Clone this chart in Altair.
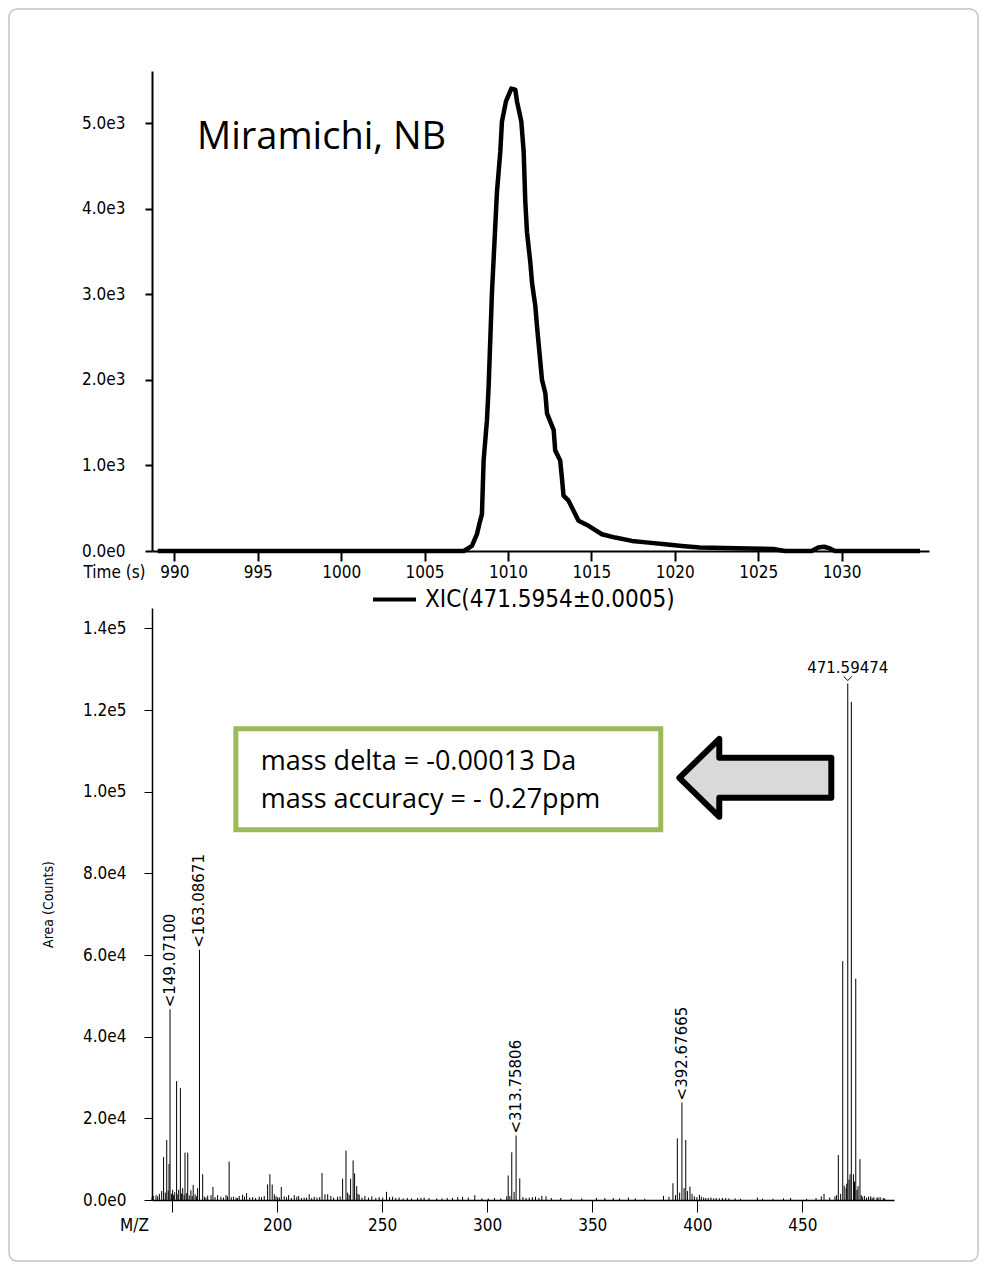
import altair as alt
import pandas as pd

# ---------------- data ----------------
xic_name = "XIC(471.5954±0.0005)"
# (time s, intensity counts)
xic_points = [
    (989.0, 0), (992.0, 0), (995.0, 0), (998.0, 0), (1001.0, 0), (1004.0, 0),
    (1007.35, 0), (1007.84, 59), (1008.14, 196), (1008.28, 314), (1008.44, 431),
    (1008.54, 1059), (1008.74, 1529), (1008.84, 1922), (1009.04, 3020),
    (1009.24, 3804), (1009.34, 4196), (1009.54, 4667), (1009.64, 5020),
    (1009.88, 5255), (1010.20, 5404), (1010.44, 5392), (1010.54, 5255),
    (1010.80, 5020), (1010.94, 4667), (1011.04, 4079), (1011.14, 3726),
    (1011.34, 3373), (1011.44, 3137), (1011.64, 2863), (1011.74, 2627),
    (1012.04, 2000), (1012.24, 1843), (1012.34, 1608), (1012.74, 1412),
    (1012.83, 1176), (1013.13, 1059), (1013.23, 863), (1013.33, 647),
    (1013.63, 588), (1013.93, 471), (1014.23, 353), (1014.83, 294),
    (1015.63, 196), (1016.43, 157), (1017.43, 118), (1018.43, 98),
    (1019.42, 78), (1020.42, 59), (1021.5, 40), (1023.0, 35), (1024.5, 30),
    (1025.9, 24), (1026.6, 0), (1028.2, 0), (1028.6, 40), (1028.95, 50),
    (1029.3, 30), (1029.6, 0), (1034.7, 0),
]

# (m/z, area counts): main peaks
spectrum_peaks = [
    (141.1, 1000), (142.4, 1200), (144.0, 1500), (145.1, 2200), (146.0, 10500),
    (147.5, 14700), (148.2, 2300), (148.6, 8800), (149.071, 46700), (150.3, 2500),
    (151.3, 1900), (152.2, 29100), (153.2, 2500), (154.0, 27400), (155.1, 2900),
    (156.2, 11600), (157.5, 11600), (158.2, 1100), (159.0, 2400), (160.1, 3700),
    (162.2, 2900), (163.087, 61300), (164.6, 6300), (167.0, 1100), (168.6, 1200),
    (169.5, 3200), (171.7, 1200), (173.3, 800), (175.7, 1200), (177.2, 9400),
    (179.3, 800), (182.0, 1000), (183.6, 1300), (185.5, 1700), (188.4, 700),
    (191.5, 800), (193.9, 1000), (195.5, 3800), (196.6, 6300), (197.7, 3800),
    (198.7, 1400), (200.3, 700), (202.0, 3200), (203.4, 900), (205.5, 1200),
    (208.2, 1200), (210.3, 1000), (212.9, 600), (215.3, 1400), (217.7, 800),
    (221.4, 6600), (222.8, 1400), (224.1, 1400), (225.6, 1000), (228.8, 800),
    (231.2, 5200), (232.8, 12100), (234.3, 1300), (235.0, 5200), (236.2, 9700),
    (236.9, 6500), (237.9, 3400), (239.1, 1300), (241.8, 1000), (245.1, 900),
    (248.6, 700), (252.1, 2000), (255.0, 800), (258.1, 600), (262.0, 500),
    (266.9, 500), (270.0, 600), (272.3, 500), (276.0, 400), (281.0, 500),
    (286.0, 700), (288.3, 800), (294.1, 1200), (300.5, 400), (310.0, 6000),
    (310.8, 1000), (311.7, 11700), (312.8, 2000), (313.758, 15800), (315.5, 5300),
    (317.0, 700), (320.0, 600), (323.0, 800), (326.0, 1000), (328.0, 900),
    (335.0, 500), (352.0, 500), (356.0, 500), (360.0, 500), (367.2, 600),
    (383.9, 1000), (388.4, 4100), (390.5, 15100), (391.6, 1800), (392.677, 23900),
    (393.7, 2900), (394.5, 14700), (395.3, 2200), (396.5, 3300), (401.0, 1300),
    (401.9, 800), (404.0, 500), (406.5, 600), (409.0, 500), (412.0, 500),
    (415.0, 400), (428.6, 600), (441.0, 400), (444.4, 500), (459.0, 900),
    (460.3, 1500), (467.1, 11000), (468.2, 1500), (469.2, 58500), (470.8, 2900),
    (471.595, 126500), (472.7, 6300), (473.3, 122000), (474.3, 6300), (475.4, 54200),
    (476.5, 3400), (477.4, 10000), (478.5, 800), (479.5, 1000), (480.5, 600),
    (481.5, 800), (482.5, 900), (484.0, 700), (485.5, 600), (487.0, 700), (488.5, 500),
]

# (m/z, area counts) small baseline peaks
spectrum_noise = [
    (140.5, 600), (143.2, 900), (146.8, 1800), (149.8, 1500), (150.8, 1200),
    (152.8, 1400), (154.6, 1600), (155.8, 1300), (157.0, 1700), (159.6, 1000),
    (161.0, 1400), (161.6, 900), (165.4, 800), (166.2, 600), (170.5, 700),
    (174.5, 600), (176.4, 900), (178.2, 700), (180.5, 600), (181.2, 500),
    (184.5, 800), (187.0, 600), (189.8, 500), (192.6, 700), (199.5, 900),
    (201.1, 600), (204.5, 700), (206.8, 500), (209.4, 800), (211.6, 500),
    (214.0, 600), (216.5, 500), (219.0, 600), (220.3, 700), (226.9, 600),
    (230.0, 900), (233.6, 1800), (238.5, 1500), (240.4, 600), (243.5, 600),
    (247.0, 500), (250.3, 600), (253.5, 700), (256.5, 500), (260.0, 400),
    (264.0, 400), (268.5, 500), (278.5, 400), (283.5, 500), (291.0, 600),
    (297.5, 400), (303.5, 500), (306.5, 400), (309.3, 900), (318.5, 500),
    (321.5, 700), (324.6, 500), (330.5, 500), (340.0, 400), (345.0, 400),
    (363.0, 400), (370.5, 400), (375.0, 300), (386.5, 800), (389.6, 1200),
    (397.5, 1500), (398.6, 900), (399.8, 700), (403.0, 600), (405.2, 500),
    (407.8, 400), (410.5, 400), (413.5, 500), (418.0, 400), (420.5, 300),
    (431.0, 300), (436.0, 300), (452.0, 300), (456.5, 500), (463.0, 600),
    (465.5, 900), (466.3, 1200), (469.9, 3500), (471.1, 4000), (472.2, 5000),
    (474.8, 4500), (476.0, 2500), (478.0, 1200), (483.2, 500), (486.0, 600),
    (489.2, 400),
]

side_label_mz = [149.071, 163.087, 313.758, 392.677]
side_label_area = [46700, 61300, 15800, 23900]
side_label_text = ["<149.07100", "<163.08671", "<313.75806", "<392.67665"]
top_label_mz = [471.595]
top_label_area = [126500]
top_label_text = ["471.59474"]

time_ticks = [990, 995, 1000, 1005, 1010, 1015, 1020, 1025, 1030]
xic_y_ticks = [0, 1000, 2000, 3000, 4000, 5000]
mz_ticks = [150, 200, 250, 300, 350, 400, 450]
area_ticks = [0, 20000, 40000, 60000, 80000, 100000, 120000, 140000]

title_text = "Miramichi, NB"
box_lines = ["mass delta = -0.00013 Da", "mass accuracy = - 0.27ppm"]

# ---------------- frames ----------------
xic_df = pd.DataFrame(xic_points, columns=["time", "intensity"])
xic_df["series"] = xic_name
spec_df = pd.DataFrame(spectrum_peaks + spectrum_noise, columns=["mz", "area"])
side_df = pd.DataFrame({"mz": side_label_mz, "area": side_label_area, "label": side_label_text})
topl_df = pd.DataFrame({"mz": top_label_mz, "area": top_label_area, "label": top_label_text})
box_df = pd.DataFrame({"mz": [180.4], "mz2": [382.6], "area": [90700], "area2": [115400]})
boxtext_df = pd.DataFrame({"mz": [192.3, 192.3], "area": [105300, 96000], "label": box_lines})
arrow_df = pd.DataFrame({"mz": [427.6], "area": [103400]})
one_df = pd.DataFrame({"k": [0]})

AXF = "DejaVu Sans Condensed, Liberation Sans Narrow, DejaVu Sans"
SCI = "replace(format(datum.value, '.1e'), '+', '')"

# ---------------- top chart: XIC ----------------
tx_scale = alt.Scale(domain=[988.66, 1035.24], nice=False, zero=False)
ty_scale = alt.Scale(domain=[0, 5610], nice=False)

tx_axis = alt.Axis(values=time_ticks, format="d", title="Time (s)", titleX=-38, titleY=26,
                   titleAlign="center", titleBaseline="alphabetic", titleFont=AXF,
                   titleFontSize=17, titleFontWeight="normal", titleColor="black",
                   labelFont=AXF, labelFontSize=17, labelColor="black", labelPadding=3,
                   tickSize=10, tickWidth=2, tickColor="black", domainColor="black",
                   domainWidth=2, grid=False, labelFlush=False, labelOverlap=False)
ty_axis = alt.Axis(values=xic_y_ticks, labelExpr=SCI, title=None, labelFont=AXF,
                   labelFontSize=17, labelColor="black", labelPadding=20, tickSize=7,
                   tickWidth=2, tickColor="black", domainColor="black", domainWidth=2,
                   grid=False)

frame = alt.Chart(one_df).mark_rect(fill="white", fillOpacity=0, stroke="#c4c4c4",
                                    strokeWidth=1.5, cornerRadius=8).encode(
    x=alt.value(-143), x2=alt.value(826), y=alt.value(-62), y2=alt.value(1190))

xic_line = alt.Chart(xic_df).mark_line(strokeWidth=4.5, strokeJoin="round").encode(
    x=alt.X("time:Q", scale=tx_scale, axis=tx_axis),
    y=alt.Y("intensity:Q", scale=ty_scale, axis=ty_axis),
    color=alt.Color("series:N", scale=alt.Scale(range=["black"]),
                    legend=alt.Legend(orient="none", legendX=219, legendY=505, title=None,
                                      symbolType="stroke", symbolSize=1849,
                                      symbolStrokeWidth=4, labelFont=AXF, labelFontSize=24,
                                      labelColor="black", labelOffset=7, labelLimit=0,
                                      padding=0)),
)

title_mark = alt.Chart(one_df).mark_text(text=title_text, font="Open Sans", fontSize=38,
                                         align="left", baseline="alphabetic",
                                         color="black").encode(
    x=alt.value(45), y=alt.value(78))

top = alt.layer(frame, xic_line, title_mark).properties(width=777, height=480)

# ---------------- bottom chart: spectrum ----------------
bx_scale = alt.Scale(domain=[140.49, 493.6], nice=False, zero=False)
by_scale = alt.Scale(domain=[0, 145000], nice=False)

bx_axis = alt.Axis(values=mz_ticks, labelExpr="datum.value == 150 ? '' : datum.label",
                   title="M/Z", titleX=-18, titleY=30, titleAlign="center",
                   titleBaseline="alphabetic", titleFont=AXF, titleFontSize=17,
                   titleFontWeight="normal", titleColor="black", labelFont=AXF,
                   labelFontSize=17, labelColor="black", labelPadding=5, tickSize=12,
                   tickWidth=1, tickColor="black", domainColor="black", domainWidth=1.5,
                   grid=False, labelFlush=False, labelOverlap=False)
by_axis = alt.Axis(values=area_ticks, labelExpr=SCI, title="Area (Counts)", titleX=-104,
                   titleY=296, titleAngle=270, titleAlign="center", titleBaseline="middle",
                   titleFont=AXF, titleFontSize=14, titleFontWeight="normal",
                   titleColor="black", labelFont=AXF, labelFontSize=17, labelColor="black",
                   labelPadding=18, tickSize=8, tickWidth=1, tickColor="black",
                   domainColor="black", domainWidth=1.5, grid=False)

X = alt.X("mz:Q", scale=bx_scale, axis=bx_axis)
Y = alt.Y("area:Q", scale=by_scale, axis=by_axis)

sticks = alt.Chart(spec_df).mark_rule(color="black", strokeWidth=1).encode(
    x=X, y=Y, y2=alt.datum(0))

box = alt.Chart(box_df).mark_rect(fill="white", stroke="#9bbb59", strokeWidth=5).encode(
    x=X, x2="mz2:Q", y=Y, y2="area2:Q")

box_text = alt.Chart(boxtext_df).mark_text(font="Open Sans", fontSize=27, align="left",
                                           baseline="alphabetic", color="black").encode(
    x=X, y=Y, text="label:N")

ARROW = "M -1 0 L -0.474 -0.513 L -0.474 -0.263 L 1 -0.263 L 1 0.263 L -0.474 0.263 L -0.474 0.513 Z"
arrow = alt.Chart(arrow_df).mark_point(shape=ARROW, size=23104, filled=True, fill="#d9d9d9",
                                       stroke="black", strokeWidth=6, strokeJoin="round",
                                       opacity=1).encode(x=X, y=Y)

side_text = alt.Chart(side_df).mark_text(angle=270, align="left", baseline="middle", dx=2,
                                         font="DejaVu Sans", fontSize=15,
                                         color="black").encode(x=X, y=Y, text="label:N")

top_chev = alt.Chart(topl_df).mark_point(shape="M -1.15 -2 L 0 -0.86 L 1.15 -2", size=49,
                                         filled=False, stroke="black", strokeWidth=1,
                                         opacity=1).encode(x=X, y=Y)
top_text = alt.Chart(topl_df).mark_text(align="center", baseline="alphabetic", dy=-11,
                                        font="DejaVu Sans", fontSize=15,
                                        color="black").encode(x=X, y=Y, text="label:N")

bottom = alt.layer(sticks, box, box_text, arrow, side_text, top_chev,
                   top_text).properties(width=742, height=592)

chart = alt.vconcat(top, bottom, spacing=57, bounds="flush").properties(
    padding=0, background="white"
).configure_view(stroke=None)

chart.save("out.html", embed_options={"renderer": "svg", "actions": False})
